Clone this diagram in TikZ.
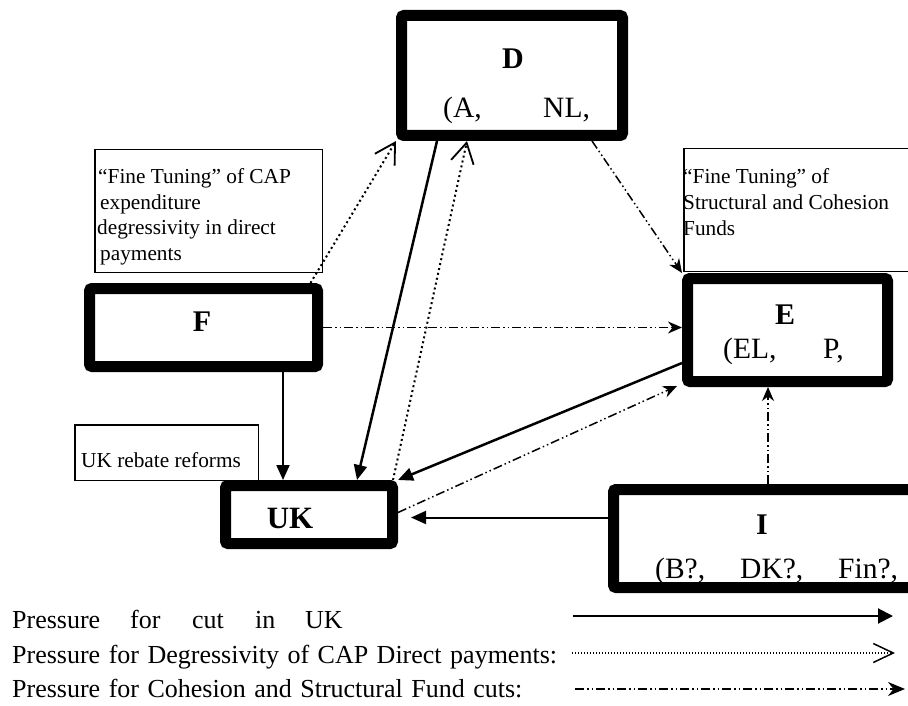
\documentclass[tikz,border=0pt]{standalone}
\usepackage{fontspec}
\setmainfont{Liberation Serif}
\usetikzlibrary{arrows.meta,calc}
\newcommand\mylegfont{\fontsize{26}{30}\selectfont\spaceskip=8.5pt\relax}
\tikzset{
  thickbox/.style={draw, line width=11pt, rounded corners=2.5pt, inner sep=0pt},
  thinbox/.style={draw, line width=1.5pt, inner sep=0pt},
  lbl/.style={font=\fontsize{29.5}{33}\selectfont, inner sep=0pt, anchor=base west},
  blbl/.style={font=\fontsize{30}{34}\selectfont\bfseries, inner sep=0pt},
  small/.style={font=\fontsize{21.3}{25}\selectfont, inner sep=0pt, anchor=base west},
  leg/.style={font=\mylegfont, inner sep=0pt, anchor=base west},
  cut/.style={line width=2.5pt, -{Triangle[length=15pt,width=13pt]}},
  deg/.style={line width=2pt, dash pattern=on 2pt off 3pt, -{Straight Barb[length=20pt,width=23pt,line width=1.8pt]}},
  coh/.style={line width=1.5pt, dash pattern=on 9pt off 3pt on 1.5pt off 3pt on 1.5pt off 3pt, -{Stealth[length=14pt,width=12pt]}},
}
\begin{document}
\begin{tikzpicture}[x=1pt,y=-1pt]
\clip (0,0) rectangle (908,706);
\fill[white] (0,0) rectangle (908,706);
% thin annotation boxes
\node[thinbox, minimum width=227.5pt, minimum height=122.5pt] (cap) at (208.5,211) {};
\node[thinbox, minimum width=245.5pt, minimum height=122.5pt] (struct) at (806.5,210) {};
\node[thinbox, minimum width=183.5pt, minimum height=55.5pt] (reb) at (166.5,452.5) {};
\node[small] (cap1) at (98,183) {“Fine Tuning” of CAP};
\node[small] (cap2) at (100,209) {expenditure};
\node[small] (cap3) at (97,234) {degressivity in direct};
\node[small] (cap4) at (100,260) {payments};
\node[small] (st1) at (683,184) {“Fine Tuning” of};
\node[small] (st2) at (683,209) {Structural and Cohesion};
\node[small] (st3) at (683,235) {Funds};
\node[small] (reb1) at (81,467) {UK rebate reforms};
% thick boxes
\node[thickbox, minimum width=221pt, minimum height=120pt] (D) at (512,75.5) {};
\node[thickbox, minimum width=228pt, minimum height=78pt] (F) at (203.5,327.5) {};
\node[thickbox, minimum width=200pt, minimum height=103pt] (E) at (787.5,330) {};
\node[thickbox, minimum width=167pt, minimum height=58pt] (UK) at (309,514.5) {};
\node[thickbox, minimum width=301pt, minimum height=98pt] (I) at (764,538.5) {};
% labels
\node[blbl] (Dl) at (513,59) {D};
\node[lbl] (Da) at (443,118) {(A,};
\node[lbl] (Db) at (543,118) {NL,};
\node[blbl] (Fl) at (202,322) {F};
\node[blbl] (El) at (785,315) {E};
\node[lbl] (Ea) at (723,358) {(EL,};
\node[lbl] (Eb) at (823,358) {P,};
\node[blbl, font=\fontsize{31}{34}\selectfont\bfseries] (UKl) at (290,518.5) {UK};
\node[blbl] (Il) at (762,525) {I};
\node[lbl] (Ia) at (655,578) {(B?,};
\node[lbl] (Ib) at (740,578) {DK?,};
\node[lbl] (Ic) at (838,578) {Fin?,};
% connectors
\draw[coh] ([xshift=80pt]D.south) -- (E.north west);
\draw[coh] (F.east) -- (F.east -| E.west);
\draw[deg] ([xshift=107pt]F.north) -- (D.south west);
\draw[cut] ([xshift=-75pt]D.south) -- ([xshift=48pt]UK.north);
\draw[deg] ([xshift=-5pt]UK.north east) -- ([xshift=-45pt]D.south);
\draw[cut] ([yshift=-33pt]E.west) -- (UK.north east);
\draw[coh] ([yshift=2pt]UK.east) -- ([xshift=-5pt,yshift=1pt]E.south west);
\coordinate (ukR) at ([xshift=13pt,yshift=-3pt]UK.east);
\draw[cut, line width=2pt] (I.west |- ukR) -- (ukR);
\draw[coh] ([xshift=4pt]I.north) -- ([xshift=4pt]I.north |- E.south);
\draw[cut, line width=2pt] ([xshift=79.5pt]F.south) -- ([xshift=79.5pt]F.south |- UK.north);
% legend
\node[leg] (w1) at (12,628) {Pressure};
\node[leg] (w2) at (130,628) {for};
\node[leg] (w3) at (192,628) {cut};
\node[leg] (w4) at (255,628) {in};
\node[leg] (w5) at (305,628) {UK};
\node[leg] (l2) at (12,663) {Pressure for Degressivity of CAP Direct payments:};
\node[leg] (l3) at (12,697) {Pressure for Cohesion and Structural Fund cuts:};
\coordinate (a1s) at (573,616); \coordinate (a1e) at (893,616);
\coordinate (a2s) at (572,653); \coordinate (a2e) at (895,653);
\coordinate (a3s) at (575,689); \coordinate (a3e) at (905,689);
\draw[line width=2pt, -{Triangle[length=15pt,width=15pt]}] (a1s) -- (a1e);
\draw[line width=1.5pt, dash pattern=on 1.2pt off 1.8pt, -{Straight Barb[length=20pt,width=19pt,line width=1.5pt]}] (a2s) -- (a2e);
\draw[line width=1.5pt, dash pattern=on 9pt off 3pt on 1.5pt off 3pt on 1.5pt off 3pt, -{Stealth[length=17pt,width=14pt]}] (a3s) -- (a3e);
\end{tikzpicture}
\end{document}
